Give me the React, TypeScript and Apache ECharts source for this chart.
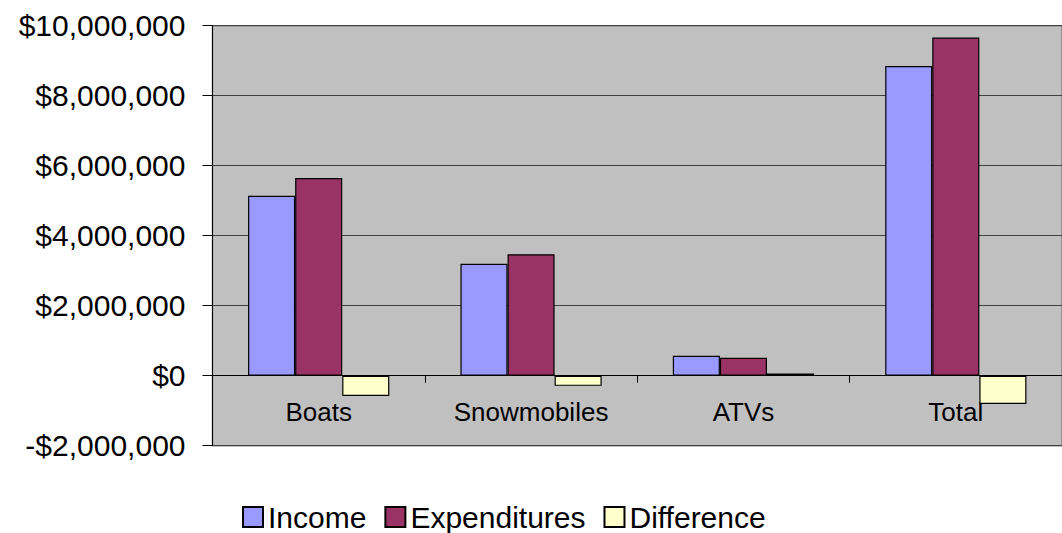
import React, { useEffect, useRef } from "react";
import * as echarts from "echarts";

const categories = ["Boats", "Snowmobiles", "ATVs", "Total"];
const income = [5140000, 3200000, 570000, 8850000];
const expenditures = [5650000, 3470000, 510000, 9660000];
const difference = [-580000, -290000, 60000, -810000];
const seriesNames = ["Income", "Expenditures", "Difference"];
const seriesColors = ["#9999FF", "#993366", "#FFFFCC"];

const fmt = (v: number) => {
  const s = Math.abs(v).toString().replace(/\B(?=(\d{3})+(?!\d))/g, ",");
  return (v < 0 ? "-$" : "$") + s;
};

const FONT = "'Liberation Sans', Arial, sans-serif";

export default function App() {
  const ref = useRef<HTMLDivElement>(null);
  useEffect(() => {
    if (!ref.current) return;
    const chart = echarts.init(ref.current, undefined, { renderer: "svg" });
    const data = [income, expenditures, difference];
    chart.setOption({
      animation: false,
      backgroundColor: "#FFFFFF",
      textStyle: { fontFamily: FONT },
      grid: {
        show: true,
        left: 212.5,
        top: 25.7,
        width: 860,
        height: 420,
        backgroundColor: "#C0C0C0",
        borderColor: "#808080",
        borderWidth: 1.5,
        containLabel: false,
      },
      legend: {
        left: 242,
        top: 502,
        padding: 0,
        itemWidth: 20,
        itemHeight: 20,
        itemGap: 18,
        icon: "rect",
        textStyle: { fontSize: 30, lineHeight: 30, color: "#000", fontFamily: FONT },
        data: seriesNames,
      },
      xAxis: {
        type: "category",
        data: categories,
        offset: -70,
        axisLine: { onZero: false, lineStyle: { color: "#000", width: 1 } },
        axisTick: { show: true, length: 7, interval: 0, lineStyle: { color: "#000" } },
        axisLabel: { fontSize: 26, color: "#000", margin: 23, fontFamily: FONT, interval: 0 },
        splitLine: { show: false },
      },
      yAxis: {
        type: "value",
        min: -2000000,
        max: 10000000,
        interval: 2000000,
        axisLine: { show: true, lineStyle: { color: "#000", width: 1 } },
        axisTick: { show: true, length: 10, lineStyle: { color: "#000" } },
        axisLabel: { fontSize: 30, color: "#000", margin: 27, formatter: fmt, fontFamily: FONT },
        splitLine: { show: true, lineStyle: { color: "#404040", width: 1 } },
      },
      series: seriesNames.map((name, i) => ({
        name,
        type: "bar",
        data: data[i],
        barGap: "0%",
        barCategoryGap: "33.5%",
        itemStyle: { color: seriesColors[i], borderColor: "#000", borderWidth: 1.2 },
      })),
    });
    return () => chart.dispose();
  }, []);
  return (
    <div
      ref={ref}
      style={{ position: "fixed", left: 0, top: 0, width: 1062, height: 533, background: "#fff" }}
    />
  );
}
